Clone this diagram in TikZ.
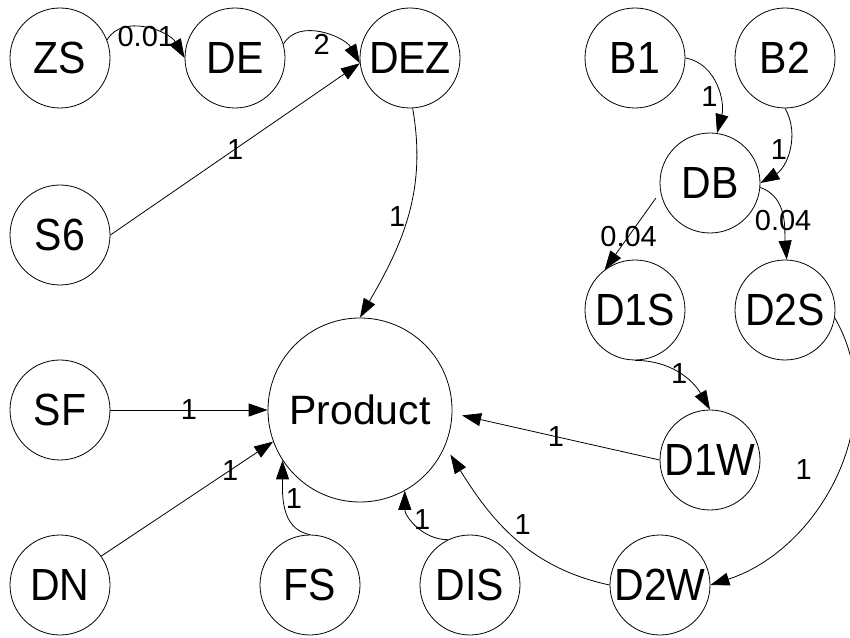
\documentclass[tikz,border=0pt]{standalone}
\usepackage{fontspec}
\setmainfont{Liberation Sans}
\usetikzlibrary{arrows.meta}
\newcommand{\nt}[1]{\scalebox{1}[1.1]{#1}}
\begin{document}
\begin{tikzpicture}[x=1pt,y=1pt,
  st/.style={circle,draw,line width=0.8pt,minimum size=100pt,inner sep=0pt,font=\fontsize{41}{41}\selectfont},
  lab/.style={font=\fontsize{29}{29}\selectfont,inner sep=0pt},
  edge/.style={draw,line width=0.8pt,-{Triangle[length=19pt,width=13pt]}}]
\useasboundingbox[fill=white] (0,0) rectangle (850,637);
% nodes
\node[st] (ZS)  at (60,579)  {\nt{ZS}};
\node[st] (DE)  at (235,579) {\nt{DE}};
\node[st] (DEZ) at (410,579) {\nt{DEZ}};
\node[st] (B1)  at (635,579) {\nt{B1}};
\node[st] (B2)  at (785,579) {\nt{B2}};
\node[st] (S6)  at (60,402)  {\nt{S6}};
\node[st] (DB)  at (710,454) {\nt{DB}};
\node[st] (D1S) at (635,327) {\nt{D1S}};
\node[st] (D2S) at (785,327) {\nt{D2S}};
\node[st] (SF)  at (60,227)  {\nt{SF}};
\node[st,minimum size=184pt] (Product) at (360,227) {Product};
\node[st] (D1W) at (710,177) {\nt{D1W}};
\node[st] (DN)  at (60,52)   {\nt{DN}};
\node[st] (FS)  at (310,52)  {\nt{FS}};
\node[st] (DIS) at (470,52)  {\nt{DIS}};
\node[st] (D2W) at (660,52)  {\nt{D2W}};
% edges
\draw[edge] (ZS.21) to[out=60,in=120] node[lab,below=-3pt,pos=0.5]{0.01} (DE.west);
\draw[edge] (DE.16) to[out=60,in=120] node[lab,below=0pt,pos=0.5]{2} (DEZ.186);
\draw[edge] (S6.east) -- node[lab,pos=0.5]{1} (DEZ.186);
\draw[edge] (DEZ.-87) to[out=-80,in=60] node[lab,left=2pt,pos=0.5]{1} (Product.north);
\draw[edge] (SF.east) -- node[lab,pos=0.5]{1} (Product.west);
\draw[edge] (DN.35) -- node[lab,pos=0.75]{1} (Product.200);
\draw[edge] (FS.north) to[out=170,in=-90] node[lab,right=2pt,pos=0.6]{1} (Product.213);
\draw[edge] (DIS.116) to[out=180,in=-90] node[lab,right=1pt,pos=0.6]{1} (Product.-61);
\draw[edge,shorten >=10pt] (D1W.west) -- node[lab,pos=0.5]{1} (Product.-2);
\draw[edge,shorten >=10pt] (D2W.west) to[out=168,in=-58] node[lab,above right=1pt,pos=0.5]{1} (Product.-23);
\draw[edge] (D1S.south) to[out=0,in=120] node[lab,pos=0.5]{1} (D1W.north);
\draw[edge] (D2S.-9) to[out=-60,in=18] node[lab,left=26pt,pos=0.48]{1} (D2W.east);
\draw[edge] (B1.east) to[out=-10,in=75] node[lab,left=1pt,pos=0.62]{1} (DB.82);
\draw[edge] (B2.south) to[out=-60,in=30] node[lab,left=1pt,pos=0.5]{1} (DB.east);
\draw[edge,shorten <=8pt] (DB.190) -- node[lab,pos=0.57]{0.04} (D1S.127);
\draw[edge] (DB.-5) to[out=-20,in=95] node[lab,pos=0.5,yshift=-4pt]{0.04} (D2S.88);
\end{tikzpicture}
\end{document}
